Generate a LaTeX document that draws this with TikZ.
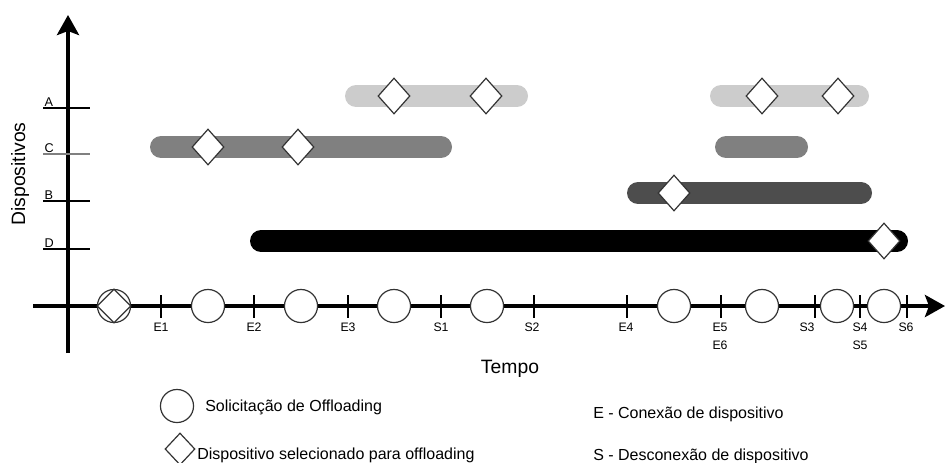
\documentclass[tikz,border=0pt]{standalone}
\usepackage{fontspec}
\setmainfont{Liberation Sans}
\usepackage{tikz}
\usetikzlibrary{
  shapes.geometric,
  arrows.meta,
  positioning
}
\definecolor{lightbar}{RGB}{204, 204, 204}
\definecolor{midbar}{RGB}{128, 128, 128}
\definecolor{darkbar}{RGB}{77, 77, 77}
\definecolor{markcolor}{RGB}{51, 51, 51}
\tikzset{
axis/.style={
  line width=3.6pt,
  -{Stealth[length=15pt,width=16.5pt,inset=3pt]}
},
devtick/.style={
  draw,
  line width=0.8pt
},
devlabel/.style={
  anchor=south west,
  inner sep=1pt,
  font=\fontsize{9.5}{11}\selectfont
},
timetick/.style={
  draw,
  line width=0.8pt
},
ticklabel/.style={
  anchor=north,
  inner sep=0pt,
  align=center,
  font=\fontsize{9.2}{13.5}\selectfont
},
bar/.style={
  line width=16.5pt,
  line cap=round
},
request/.style={
  circle,
  draw=markcolor,
  fill=white,
  line width=0.9pt,
  minimum size=24.8pt,
  inner sep=0pt
},
selected/.style={
  diamond,
  draw=markcolor,
  fill=white,
  line width=0.9pt,
  minimum width=24pt,
  minimum height=27pt,
  inner sep=0pt
},
axistitle/.style={
  anchor=base,
  inner sep=0pt,
  font=\fontsize{14.5}{17}\selectfont
},
legendtext/.style={
  anchor=base west,
  inner sep=0pt,
  font=\fontsize{12}{14}\selectfont
}
}

\begin{document}
\begin{tikzpicture}[x=0.75pt, y=-0.75pt]
  \useasboundingbox (0,0) rectangle (945,462);

  % eixos
  \coordinate (y-start) at (68,353);
  \coordinate (y-end) at (68,15);
  \coordinate (x-start) at (33,306);
  \coordinate (x-end) at (945,306);
  \draw[axis] (y-start) -- (y-end);
  \draw[axis] (x-start) -- (x-end);

  % dispositivos
  \foreach \y/\d/\c in {108/A/black, 154/C/midbar, 201/B/black, 249/D/black} {
    \coordinate (dev\d-l) at (43,\y);
    \coordinate (dev\d-r) at (90,\y);
    \draw[devtick, draw=\c] (dev\d-l) -- (dev\d-r);
    \node[devlabel] (lbl\d) at (dev\d-l) {\d};
  }
  \node[axistitle, rotate=90] (ytitle) at (25,174) {Dispositivos};

  % periodos de conexao
  \draw[bar, draw=lightbar] (356,96) -- (517,96);
  \draw[bar, draw=lightbar] (721,96) -- (858,96);
  \draw[bar, draw=midbar] (161,147) -- (441,147);
  \draw[bar, draw=midbar] (726,147) -- (797,147);
  \draw[bar, draw=darkbar] (638,193) -- (861,193);
  \draw[bar, draw=black] (261,241) -- (897,241);

  \foreach \x/\y [count=\i] in {394/96, 486/96, 762/96, 838/96, 208/147, 298/147, 674/193, 884/241}
    \node[selected] (sel\i) at (\x,\y) {};

  % eventos no tempo
  \foreach \x/\lx/\t [count=\i] in {161/161/E1, 254/254/E2, 348/348/E3, 441/441/S1, 534/532/S2, 627/626/E4, 721/720/{E5\\E6}, 815/807/S3, 860/860/{S4\\S5}, 907/906/S6} {
    \draw[timetick] (\x,295) -- (\x,318);
    \node[ticklabel] (ev\i) at (\lx,323) {\t};
  }

  \foreach \x [count=\i] in {114,208,301,394,487,674,762,837,884}
    \node[request] (req\i) at (\x,306) {};
  \node[selected, minimum width=25.5pt, minimum height=25.5pt] (sel0) at (req1) {};

  \node[axistitle] (xtitle) at (510,373) {Tempo};

  % legenda
  \node[request] (leg-req) at (177,406) {};
  \node[legendtext] (leg-req-txt) at (205,411) {Solicitação de Offloading};
  \node[selected, minimum width=22.5pt, minimum height=24pt] (leg-sel) at (180,449) {};
  \node[legendtext] (leg-sel-txt) at (197,459) {Dispositivo selecionado para offloading};
  \node[legendtext] (leg-e) at (593,418) {E - Conexão de dispositivo};
  \node[legendtext] (leg-s) at (593,460) {S - Desconexão de dispositivo};
\end{tikzpicture}
\end{document}
